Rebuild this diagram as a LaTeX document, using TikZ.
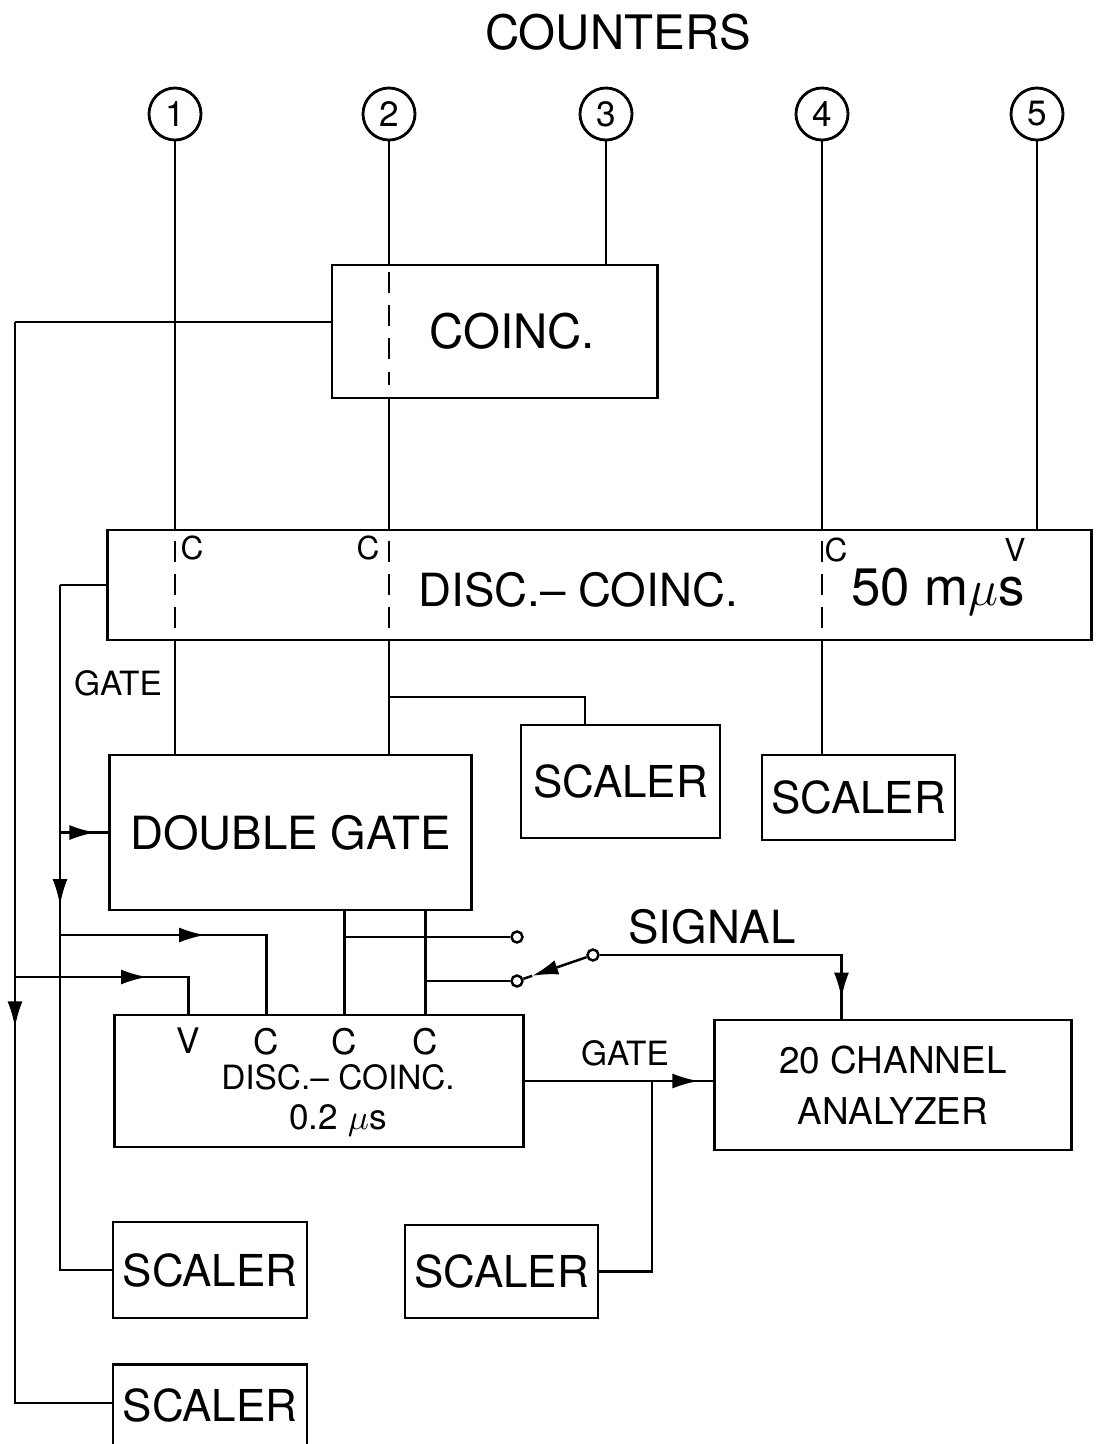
\documentclass[tikz,border=0pt]{standalone}
\usepackage{fontspec}
\setmainfont{TeX Gyre Heros}
\usetikzlibrary{arrows.meta,positioning,calc,decorations.markings}
\newcommand{\lsize}[1]{\fontsize{#1}{#1}\selectfont}
\tikzset{
  unit/.style={draw, line width=0.8pt, inner sep=0pt, align=center},
  ctr/.style={draw, circle, line width=0.8pt, inner sep=0pt, minimum size=0.52cm, font=\lsize{10}},
  dashln/.style={dash pattern=on 6pt off 3.5pt},
  tag/.style={inner sep=0pt, font=\lsize{9}},
  pin/.style={circle, draw, fill=white, inner sep=0pt, minimum size=0.11cm, line width=0.7pt},
  marr/.style={postaction={decorate}, decoration={markings,
      mark=at position #1 with {\arrow{Latex[length=2.6mm,width=1.5mm]}}}},
}

\begin{document}
\begin{tikzpicture}[x=0.01cm, y=-0.01cm, line width=0.7pt]
  \useasboundingbox (0,0) rectangle (1099,1444);

  % counters
  \node[font=\lsize{13.5}] (title) at (618,32) {COUNTERS};
  \foreach \n/\x in {1/175,2/389,3/606,4/822,5/1037}
    \node[ctr] (c\n) at (\x,114) {\n};

  % boxes
  \node[unit, minimum width=3.25cm, minimum height=1.33cm, font=\lsize{13.5}] (coinc) at (494.5,331.5) {\hspace*{10pt}COINC.};
  \node[unit, minimum width=9.83cm, minimum height=1.10cm] (dcbig) at (599.5,585) {};
  \node[unit, minimum width=3.61cm, minimum height=1.55cm, font=\lsize{13}] (dgate) at (290.5,832.5) {DOUBLE GATE};
  \node[unit, minimum width=1.99cm, minimum height=1.13cm, font=\lsize{12.5}] (scalA) at (620.5,781.5) {SCALER};
  \node[unit, minimum width=1.93cm, minimum height=0.85cm, font=\lsize{12.5}] (scalB) at (858.5,797.5) {SCALER};
  \node[unit, minimum width=4.08cm, minimum height=1.32cm] (dcsmall) at (319,1081) {};
  \node[unit, minimum width=3.56cm, minimum height=1.30cm, font=\lsize{10.5}] (analyzer) at (893,1085)
       {20 CHANNEL\\[4pt]ANALYZER};
  \node[unit, minimum width=1.94cm, minimum height=0.96cm, font=\lsize{12.5}] (scalC) at (210,1270) {SCALER};
  \node[unit, minimum width=1.93cm, minimum height=0.93cm, font=\lsize{12.5}] (scalD) at (501.5,1271.5) {SCALER};
  \node[unit, minimum width=1.94cm, minimum height=1.6cm, anchor=north] (scalE) at (210,1363) {};
  \node[font=\lsize{12.5}] (tScalE) at (210,1405) {SCALER};

  % texts in the long boxes
  \node[font=\lsize{13}] (tBig) at (578,590) {DISC.– COINC.};
  \node[font=\lsize{15}] (tFifty) at (938,592) {50 m$\mu$s};
  \node[tag] (kC1) at (192,548) {C};
  \node[tag] (kC2) at (368,548) {C};
  \node[tag] (kC4) at (836,550) {C};
  \node[tag] (kV5) at (1015,550) {V};
  \node[font=\lsize{9.5}] (tSmall) at (338,1077) {DISC.– COINC.};
  \node[font=\lsize{10}] (tTime) at (338,1120) {0.2 $\mu$s};

  % counter leads
  \draw (c1) -- (c1 |- dcbig.north);
  \draw (c2) -- (c2 |- coinc.north);
  \draw (c3) -- (c3 |- coinc.north);
  \draw (c4) -- (c4 |- dcbig.north);
  \draw (c5) -- (c5 |- dcbig.north);
  \draw (c2 |- coinc.south) -- (c2 |- dcbig.north);
  \draw[dashln] ($(c2 |- coinc.north)+(0,8)$) -- ($(c2 |- coinc.south)+(0,-14)$);
  \foreach \k in {1,2,4}
    \draw[dashln] ($(c\k |- dcbig.north)+(0,12)$) -- ($(c\k |- dcbig.south)+(0,-12)$);

  % below the 50 mus unit
  \draw (c1 |- dcbig.south) -- (c1 |- dgate.north);
  \draw (c2 |- dcbig.south) -- (c2 |- dgate.north);
  \coordinate (br2) at (389,697);
  \coordinate (dropA) at (585,697);
  \draw (br2) -- (dropA) -- (dropA |- scalA.north);
  \draw (c4 |- dcbig.south) -- (c4 |- scalB.north);

  % left bus from coinc
  \coordinate (busL) at (15,322);
  \draw (coinc.west |- busL) -- (busL);
  \draw[marr=7.05cm] (busL) |- ($(scalE.north west)+(0,40)$);

  % gate bus
  \coordinate (busG) at (60,585);
  \node[font=\lsize{9.5}] (tGate) at (118,683) {GATE};
  \draw (dcbig.west) -- (busG);
  \draw[marr=3.2cm] (busG) |- (scalC.west);
  \draw[marr=-0.13cm] (busG |- dgate.west) -- (dgate.west);

  % inputs of the 0.2 mus unit
  \path (dcsmall.north west) ++(75,0) coordinate (inV) ++(78,0) coordinate (inC1)
        ++(78,0) coordinate (inC2) ++(81,0) coordinate (inC3);
  \foreach \p/\t in {inV/V,inC1/C,inC2/C,inC3/C}
    \node[tag, font=\lsize{10}, below=0.13cm of \p] (k\p) {\t};
  \coordinate (jC) at (60,935);
  \coordinate (jV) at (15,977);
  \draw[marr=1.45cm] (jC) -| (inC1);
  \draw[marr=1.32cm] (jV) -| (inV);
  \draw (dgate.south -| inC2) -- (inC2);
  \draw (dgate.south -| inC3) -- (inC3);

  % signal switch
  \node[pin] (pA) at (517,937) {};
  \node[pin] (pB) at (517,981) {};
  \node[pin] (pS) at (593,955) {};
  \draw (inC2 |- pA) -- (pA);
  \draw (inC3 |- pB) -- (pB);
  \draw[-{Latex[length=2.6mm,width=1.5mm]}] (pS) -- ($(pB)!0.2!(pS)$);
  \draw ($(pB)!0.2!(pS)$) -- (pB);
  \node[font=\lsize{13}] (tSignal) at (712,927) {SIGNAL};
  \coordinate (sigIn) at ($(analyzer.north west)+(128,0)$);
  \draw[marr=-0.2cm] (pS) -| (sigIn);

  % gate to analyzer
  \node[font=\lsize{9.5}] (tGate2) at (625,1053) {GATE};
  \draw[marr=-0.15cm] (dcsmall.east) -- (dcsmall.east -| analyzer.west);
  \coordinate (jG) at (652,1081);
  \draw (jG) |- (scalD.east);
\end{tikzpicture}
\end{document}
